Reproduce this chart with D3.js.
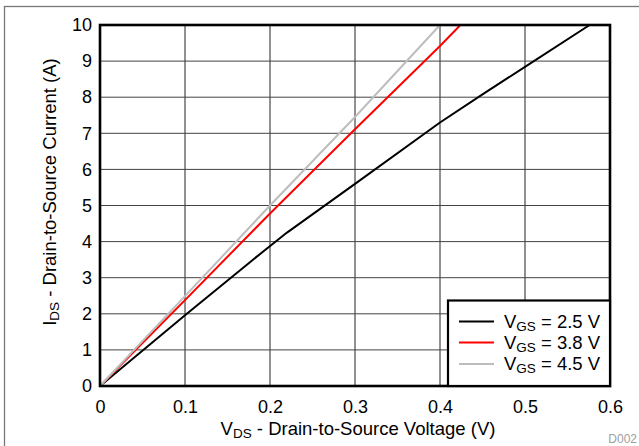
<!DOCTYPE html>
<html><head><meta charset="utf-8">
<script src="https://cdn.jsdelivr.net/npm/d3@7/dist/d3.min.js"></script>
<style>body{margin:0;background:#fff}svg{display:block;font-family:"Liberation Sans",Arial,sans-serif}</style>
</head><body><svg id="c" width="639" height="446"></svg>
<script>
const xTicks = [0, 0.1, 0.2, 0.3, 0.4, 0.5, 0.6];
const yTicks = [0,1,2,3,4,5,6,7,8,9,10];
const seriesNames = ["2.5 V", "3.8 V", "4.5 V"];
const seriesColors = ["#000000", "#ff0000", "#bdbdbd"];
const vgs25 = [[0,0],[0.1,1.96],[0.18,3.5],[0.22,4.25],[0.3,5.6],[0.4,7.3],[0.45,8.08],[0.5,8.84],[0.576,10]];
const vgs38 = [[0,0],[0.1,2.38],[0.2,4.78],[0.3,7.11],[0.4,9.42],[0.424,10]];
const vgs45 = [[0,0],[0.1,2.49],[0.2,5.0],[0.3,7.45],[0.4,10]];
const seriesData = [vgs25, vgs38, vgs45];

const FS = 18.5, SUB = 13.5;
const svg = d3.select("#c");
const L=100, R=610, T=25, B=386;
const x = d3.scaleLinear().domain([0,0.6]).range([L,R]);
const y = d3.scaleLinear().domain([0,10]).range([B,T]);

// outer border
svg.append("rect").attr("x",4.5).attr("y",6.5).attr("width",700).attr("height",500)
  .attr("fill","none").attr("stroke","#777").attr("stroke-width",1.3);

// grid
const g = svg.append("g");
g.selectAll(".vx").data(xTicks).enter().append("line")
  .attr("x1",d=>x(d)).attr("x2",d=>x(d)).attr("y1",T).attr("y2",B)
  .attr("stroke","#222").attr("stroke-width",1);
g.selectAll(".hy").data(yTicks).enter().append("line")
  .attr("x1",L).attr("x2",R).attr("y1",d=>y(d)).attr("y2",d=>y(d))
  .attr("stroke","#444").attr("stroke-width",1);

// axes labels via d3 axes
const xa = svg.append("g").attr("transform",`translate(0,${B})`)
  .call(d3.axisBottom(x).tickValues(xTicks).tickFormat(d=>String(+d.toFixed(1))).tickSize(0).tickPadding(14));
const ya = svg.append("g").attr("transform",`translate(${L},0)`)
  .call(d3.axisLeft(y).tickValues(yTicks).tickSize(0).tickPadding(8));
[xa,ya].forEach(a=>{a.select(".domain").remove();
  a.selectAll("text").attr("font-size",18).attr("fill","#000").attr("font-family","Liberation Sans, Arial, sans-serif");});

// curves
const line = d3.line().x(d=>x(d[0])).y(d=>y(d[1]));
svg.append("defs").append("clipPath").attr("id","clip").append("rect")
  .attr("x",L).attr("y",T-1).attr("width",R-L).attr("height",B-T+1);
const cg = svg.append("g").attr("clip-path","url(#clip)");
seriesData.forEach((s,i)=>{
  cg.append("path").datum(s).attr("d",line).attr("fill","none")
    .attr("stroke",seriesColors[i]).attr("stroke-width",2).attr("stroke-linejoin","round");
});

// frame
svg.append("rect").attr("x",L).attr("y",T).attr("width",R-L).attr("height",B-T)
  .attr("fill","none").attr("stroke","#000").attr("stroke-width",2.6);

// legend
const lg = svg.append("g");
lg.append("rect").attr("x",448).attr("y",300.5).attr("width",R-448).attr("height",B-300.5)
  .attr("fill","#fff").attr("stroke","#000").attr("stroke-width",2.2);
const ly = [321.5, 342.5, 364];
seriesNames.forEach((n,i)=>{
  lg.append("line").attr("x1",459).attr("x2",494).attr("y1",ly[i]).attr("y2",ly[i])
    .attr("stroke",seriesColors[i]).attr("stroke-width",2.2);
  const t = lg.append("text").attr("x",504).attr("y",ly[i]+6).attr("font-size",FS).attr("fill","#000");
  t.append("tspan").text("V");
  t.append("tspan").attr("font-size",SUB).attr("dy",3).text("GS");
  t.append("tspan").attr("dy",-3).text(" = " + n);
});

// x title
const xt = svg.append("text").attr("x",358).attr("y",435).attr("text-anchor","middle").attr("font-size",FS);
xt.append("tspan").text("V");
xt.append("tspan").attr("font-size",SUB).attr("dy",3).text("DS");
xt.append("tspan").attr("dy",-3).text(" - Drain-to-Source Voltage (V)");

// y title
const yt = svg.append("text").attr("transform","translate(56,192) rotate(-90)").attr("text-anchor","middle").attr("font-size",FS);
yt.append("tspan").text("I");
yt.append("tspan").attr("font-size",SUB).attr("dy",3).text("DS");
yt.append("tspan").attr("dy",-3).text(" - Drain-to-Source Current (A)");

// watermark
svg.append("text").attr("x",637).attr("y",443).attr("text-anchor","end").attr("font-size",12)
  .attr("fill","#a0a0a0").text("D002");
</script></body></html>
